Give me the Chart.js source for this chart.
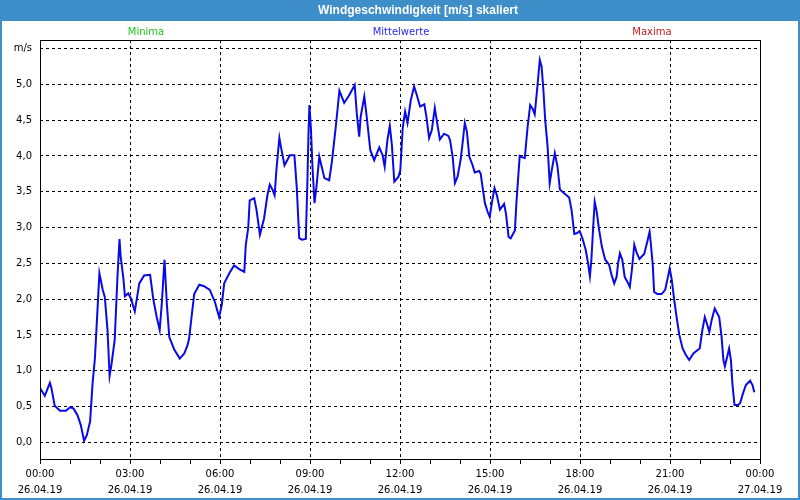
<!DOCTYPE html>
<html><head><meta charset="utf-8">
<script src="https://cdn.jsdelivr.net/npm/chart.js@4/dist/chart.umd.min.js"></script>
<style>html,body{margin:0;padding:0;background:#fff}#wrap{width:800px;height:500px;position:relative}</style>
</head><body><div id="wrap"><canvas id="c" width="800" height="500"></canvas></div>
<script>
const chartTitle = 'Windgeschwindigkeit [m/s] skaliert';
const legendNames = ['Minima', 'Mittelwerte', 'Maxima'];
const legendColors = ['#22c422', '#2a2aee', '#c41a1a'];
const unitLabel = 'm/s';
const yTickValues = [0, 0.5, 1, 1.5, 2, 2.5, 3, 3.5, 4, 4.5, 5, 5.5];
const xTimeLabels = ['00:00','03:00','06:00','09:00','12:00','15:00','18:00','21:00','00:00'];
const xDateLabels = ['26.04.19','26.04.19','26.04.19','26.04.19','26.04.19','26.04.19','26.04.19','26.04.19','27.04.19'];

// time in hours since 26.04.19 00:00
const hours = [
 0.00,0.16,0.33,0.38,0.49,0.67,0.86,1.01,1.12,1.25,1.36,1.47,1.56,1.67,1.75,1.83,1.89,1.98,2.09,2.16,
 2.25,2.32,2.38,2.49,2.58,2.65,2.69,2.78,2.83,2.94,3.03,3.16,3.31,3.47,3.67,3.78,3.89,3.99,4.06,4.15,
 4.23,4.31,4.47,4.66,4.81,4.92,4.97,5.06,5.14,5.31,5.47,5.66,5.83,5.97,6.06,6.14,6.31,6.47,6.64,6.81,
 6.86,6.94,6.99,7.14,7.22,7.33,7.47,7.58,7.66,7.75,7.82,7.88,7.94,7.98,8.03,8.15,8.33,8.48,8.56,8.64,
 8.73,8.86,8.91,8.95,8.98,9.03,9.08,9.15,9.22,9.31,9.39,9.48,9.64,9.73,9.86,9.98,10.14,10.31,10.49,10.56,
 10.64,10.69,10.81,10.89,11.01,11.14,11.31,11.42,11.49,11.58,11.66,11.73,11.81,11.95,12.01,12.09,12.17,12.25,12.36,12.47,
 12.56,12.67,12.81,12.88,12.97,13.06,13.16,13.25,13.33,13.47,13.61,13.67,13.76,13.83,13.92,14.03,14.16,14.23,14.31,14.42,
 14.49,14.64,14.69,14.75,14.83,14.92,14.99,15.06,15.15,15.23,15.33,15.47,15.53,15.62,15.69,15.83,15.88,15.95,15.99,16.08,
 16.16,16.25,16.34,16.42,16.49,16.58,16.66,16.72,16.78,16.84,16.92,16.99,17.05,17.16,17.25,17.33,17.47,17.64,17.72,17.81,
 17.89,17.99,18.08,18.19,18.27,18.33,18.38,18.44,18.49,18.55,18.64,18.73,18.84,18.97,19.05,19.14,19.22,19.27,19.33,19.41,
 19.49,19.58,19.66,19.73,19.81,19.88,19.98,20.14,20.23,20.32,20.36,20.43,20.47,20.58,20.72,20.84,20.92,20.99,21.06,21.14,
 21.22,21.31,21.42,21.53,21.64,21.78,21.92,21.99,22.08,22.16,22.23,22.31,22.39,22.49,22.64,22.72,22.78,22.83,22.92,22.97,
 23.03,23.08,23.15,23.27,23.34,23.43,23.53,23.67,23.75,23.81
];
// mean wind speed, m/s
const speeds = [
 0.76,0.65,0.83,0.76,0.51,0.44,0.44,0.49,0.47,0.38,0.24,0.02,0.10,0.29,0.81,1.17,1.64,2.36,2.13,2.03,
 1.57,0.93,1.08,1.43,2.29,2.84,2.59,2.29,2.04,2.08,2.01,1.83,2.22,2.33,2.34,1.99,1.75,1.57,1.94,2.55,
 1.92,1.47,1.30,1.17,1.24,1.36,1.45,1.78,2.07,2.20,2.18,2.13,1.96,1.75,1.92,2.22,2.36,2.47,2.42,2.38,
 2.76,2.99,3.38,3.41,3.24,2.90,3.13,3.45,3.60,3.53,3.45,3.80,4.08,4.25,4.13,3.87,4.01,4.01,3.55,2.85,
 2.83,2.84,3.59,4.32,4.71,4.39,3.87,3.34,3.59,3.99,3.85,3.69,3.66,3.92,4.41,4.91,4.74,4.85,4.99,4.59,
 4.27,4.55,4.83,4.55,4.08,3.94,4.12,4.01,3.85,4.22,4.42,4.15,3.64,3.71,3.80,4.39,4.62,4.46,4.78,4.97,
 4.85,4.69,4.72,4.55,4.25,4.36,4.67,4.43,4.23,4.31,4.28,4.22,3.97,3.62,3.71,3.97,4.46,4.34,3.99,3.87,
 3.77,3.79,3.75,3.57,3.34,3.22,3.15,3.34,3.55,3.45,3.25,3.33,3.20,2.87,2.85,2.96,3.34,3.76,4.00,3.98,
 3.97,4.39,4.71,4.66,4.58,4.97,5.34,5.25,4.92,4.50,4.13,3.62,3.78,4.04,3.85,3.53,3.48,3.42,3.24,2.91,
 2.92,2.95,2.85,2.69,2.50,2.32,2.55,3.01,3.36,3.24,2.96,2.73,2.55,2.48,2.34,2.22,2.31,2.50,2.64,2.55,
 2.31,2.24,2.17,2.41,2.76,2.66,2.56,2.63,2.78,2.94,2.78,2.45,2.10,2.07,2.07,2.13,2.29,2.43,2.27,1.99,
 1.75,1.50,1.31,1.22,1.15,1.24,1.29,1.31,1.57,1.75,1.66,1.54,1.71,1.87,1.75,1.47,1.15,1.06,1.22,1.31,
 1.15,0.82,0.52,0.52,0.55,0.68,0.80,0.86,0.80,0.70
];

const BLUE = '#3d8ec9';
const FONT = '"DejaVu Sans", sans-serif';

const framePlugin = {
  id: 'frame',
  beforeDraw(chart) {
    const ctx = chart.ctx;
    ctx.save();
    ctx.fillStyle = '#fff';
    ctx.fillRect(0, 0, 800, 500);
    ctx.fillStyle = BLUE;
    ctx.fillRect(0, 0, 800, 21);
    ctx.fillRect(0, 0, 2, 500);
    ctx.fillRect(798, 0, 2, 500);
    ctx.fillRect(0, 498, 800, 2);
    ctx.fillStyle = '#fff';
    ctx.font = 'bold 12px "Liberation Sans", sans-serif';
    ctx.textAlign = 'center';
    ctx.textBaseline = 'middle';
    ctx.fillText(chartTitle, 418, 11);
    ctx.font = '10px ' + FONT;
    const lx = [146, 401, 652];
    legendNames.forEach((n, i) => {
      ctx.fillStyle = legendColors[i];
      ctx.fillText(n, lx[i], 32);
    });
    ctx.restore();
  },
  afterDraw(chart) {
    const a = chart.chartArea;
    const ctx = chart.ctx;
    ctx.save();
    ctx.strokeStyle = '#000';
    ctx.lineWidth = 1;
    ctx.strokeRect(a.left + 0.5, a.top + 0.5, a.right - a.left, a.bottom - a.top - 1);
    ctx.restore();
  }
};

new Chart(document.getElementById('c'), {
  type: 'line',
  data: {
    datasets: [{
      data: hours.map((h, i) => ({ x: h, y: speeds[i] })),
      borderColor: '#0a0ae6',
      borderWidth: 2,
      pointRadius: 0,
      tension: 0,
      fill: false
    }]
  },
  options: {
    responsive: false,
    animation: false,
    events: [],
    layout: { padding: { top: 40, right: 40, bottom: 0, left: 0 } },
    plugins: { legend: { display: false }, title: { display: false }, tooltip: { enabled: false } },
    scales: {
      x: {
        type: 'linear', min: 0, max: 24,
        afterBuildTicks(scale) { const t = []; for (let h = 0; h <= 24; h++) t.push({ value: h }); scale.ticks = t; },
        afterFit(scale) { scale.height = 40; },
        border: { display: false, dash: [3, 3] },
        grid: {
          color: c => (c.tick && c.tick.value % 3 === 0 && c.tick.value > 0 && c.tick.value < 24) ? '#000' : 'rgba(0,0,0,0)',
          tickColor: '#000', tickLength: 4, tickBorderDash: [], lineWidth: 1
        },
        ticks: {
          autoSkip: false, maxRotation: 0, minRotation: 0, padding: 3, color: '#000',
          font: { family: FONT, size: 10, lineHeight: 1.55 },
          callback: v => (v % 3 === 0) ? [xTimeLabels[v / 3], xDateLabels[v / 3]] : ''
        }
      },
      y: {
        type: 'linear', min: -0.247, max: 5.619,
        afterBuildTicks(scale) { scale.ticks = yTickValues.map(v => ({ value: v })); },
        afterFit(scale) { scale.width = 40; },
        border: { display: false, dash: [3, 3] },
        grid: { color: '#000', drawTicks: false, lineWidth: 1 },
        ticks: {
          padding: 8, color: '#000', font: { family: FONT, size: 10 },
          callback: v => v === 5.5 ? unitLabel : v.toFixed(1).replace('.', ',')
        }
      }
    }
  },
  plugins: [framePlugin]
});
</script>
</body></html>
